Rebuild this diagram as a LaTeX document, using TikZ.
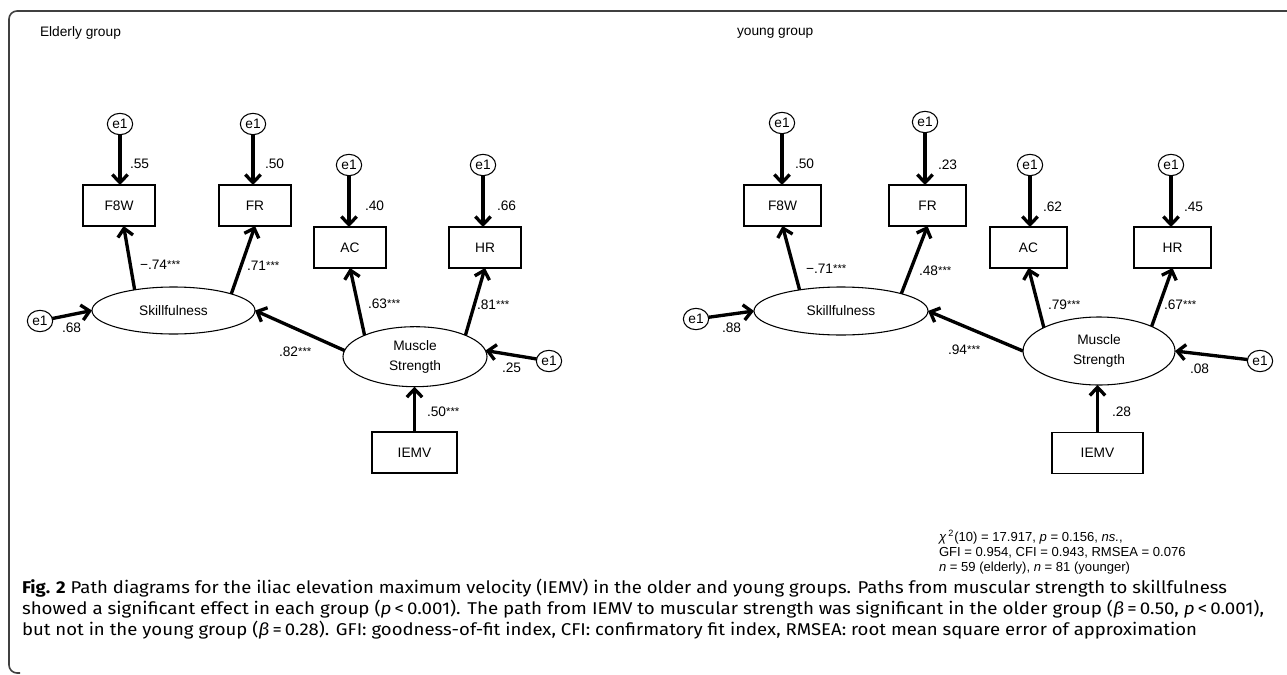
\documentclass[tikz,border=0pt]{standalone}
\usepackage{graphicx}
\usepackage{fontspec}
\setmainfont{Liberation Sans}
\newfontfamily\capfont{Fira Sans}
\usetikzlibrary{arrows.meta,shapes.geometric}
\newcommand{\st}{\raisebox{1.2pt}{\fontsize{8.5pt}{8.5pt}\selectfont ***}}
\newcommand{\capline}[2]{\resizebox{#1}{\height}{#2}}
\begin{document}
\begin{tikzpicture}[x=0.75pt,y=-0.75pt,
  every node/.style={font=\fontsize{10.3pt}{12pt}\selectfont, inner sep=0pt, outer sep=0pt},
  obs/.style={draw, line width=0.8pt, rectangle, minimum height=30.75pt},
  lat/.style={draw, line width=0.8pt, ellipse},
  err/.style={draw, line width=0.8pt, ellipse, minimum width=19pt, minimum height=16pt},
  arr/.style={line width=2.5pt, -{Straight Barb[length=6pt,width=11.5pt]}},
  lbl/.style={anchor=west},
  stat/.style={anchor=west, font=\fontsize{9.8pt}{12pt}\selectfont},
  captext/.style={anchor=west, font=\capfont\fontsize{12.8pt}{14pt}\selectfont},
]
\useasboundingbox (0,0) rectangle (1287,674);
% frame
\draw[line width=1.2pt, black!75, rounded corners=6pt] (20,673) -- (9,673) -- (9,11) -- (1300,11);

% ---------------- Elderly group ----------------
\node[anchor=west] (tL) at (40,33) {Elderly group};
\node[obs, minimum width=54pt] (f8wL) at (119,205.5) {F8W};
\node[obs, minimum width=54pt] (frL) at (255,205.5) {FR};
\node[obs, minimum width=54pt] (acL) at (350,247.5) {AC};
\node[obs, minimum width=54pt] (hrL) at (485,247.5) {HR};
\node[obs, minimum width=63.75pt] (iemvL) at (414.5,452.5) {IEMV};
\node[lat, minimum width=122.25pt, minimum height=35.25pt] (skL) at (173.5,310.5) {Skillfulness};
\node[lat, minimum width=108pt, minimum height=45pt, align=center, font=\fontsize{10.3pt}{15pt}\selectfont] (msL) at (415,356.7) {Muscle\\Strength};
\node[err] (e1aL) at (120,124) {e1};
\node[err] (e1bL) at (253,124) {e1};
\node[err] (e1cL) at (349,165) {e1};
\node[err] (e1dL) at (483,165) {e1};
\node[err] (e1sL) at (40,321) {e1};
\node[err] (e1mL) at (549,361) {e1};

\draw[arr] (e1aL.south) -- (e1aL.south |- f8wL.north);
\draw[arr] (e1bL.south) -- (e1bL.south |- frL.north);
\draw[arr] (e1cL.south) -- (e1cL.south |- acL.north);
\draw[arr] (e1dL.south) -- (e1dL.south |- hrL.north);
\draw[arr] (skL.152) -- ([xshift=3.5pt]f8wL.south);
\draw[arr] (skL.16) -- (frL.south);
\draw[arr] (msL.157) -- (acL.south);
\draw[arr] (msL.23) -- (hrL.south);
\draw[arr] (msL.175) -- (skL.east);
\draw[arr] (e1sL) -- (skL.west);
\draw[arr] (e1mL) -- (msL.5);
\draw[arr] (iemvL.north) -- (iemvL.north |- msL.south);

\node[lbl] (a1) at (130,164) {.55};
\node[lbl] (a2) at (265,164) {.50};
\node[lbl] (a3) at (365,206) {.40};
\node[lbl] (a4) at (497,206) {.66};
\node[lbl] (a5) at (140,265) {−.74\st};
\node[lbl] (a6) at (247,266) {.71\st};
\node[lbl] (a7) at (62,328) {.68};
\node[lbl] (a8) at (368,304) {.63\st};
\node[lbl] (a9) at (477,305) {.81\st};
\node[lbl] (a10) at (279,352) {.82\st};
\node[lbl] (a11) at (502,368) {.25};
\node[lbl] (a12) at (427,412) {.50\st};

% ---------------- young group ----------------
\node[anchor=west] (tR) at (737,33) {young group};
\node[obs, minimum width=57.75pt] (f8wR) at (782.5,205.5) {F8W};
\node[obs, minimum width=57.75pt] (frR) at (927.5,205.5) {FR};
\node[obs, minimum width=57.75pt] (acR) at (1028.5,247.5) {AC};
\node[obs, minimum width=57.75pt] (hrR) at (1172.5,247.5) {HR};
\node[obs, minimum width=68.25pt] (iemvR) at (1097.5,453) {IEMV};
\node[lat, minimum width=130.5pt, minimum height=36pt] (skR) at (841,311) {Skillfulness};
\node[lat, minimum width=114pt, minimum height=51pt, align=center, font=\fontsize{10.3pt}{15pt}\selectfont] (msR) at (1099,351) {Muscle\\Strength};
\node[err] (e1aR) at (782,123) {e1};
\node[err] (e1bR) at (925,122) {e1};
\node[err] (e1cR) at (1030,165) {e1};
\node[err] (e1dR) at (1171,165) {e1};
\node[err] (e1sR) at (696,319) {e1};
\node[err] (e1mR) at (1260,361) {e1};

\draw[arr] (e1aR.south) -- (e1aR.south |- f8wR.north);
\draw[arr] (e1bR.south) -- (e1bR.south |- frR.north);
\draw[arr] (e1cR.south) -- (e1cR.south |- acR.north);
\draw[arr] (e1dR.south) -- (e1dR.south |- hrR.north);
\draw[arr] (skR.153) -- (f8wR.south);
\draw[arr] (skR.16) -- (frR.south);
\draw[arr] (msR.157) -- (acR.south);
\draw[arr] (msR.25) -- (hrR.south);
\draw[arr] (msR.west) -- (skR.east);
\draw[arr] (e1sR) -- (skR.west);
\draw[arr] (e1mR) -- (msR.east);
\draw[arr] (iemvR.north) -- (iemvR.north |- msR.south);

\node[lbl] (b1) at (795,164) {.50};
\node[lbl] (b2) at (938,165) {.23};
\node[lbl] (b3) at (1043,207) {.62};
\node[lbl] (b4) at (1184,207) {.45};
\node[lbl] (b5) at (806,269) {−.71\st};
\node[lbl] (b6) at (919,271) {.48\st};
\node[lbl] (b7) at (722,328) {.88};
\node[lbl] (b8) at (1048,305) {.79\st};
\node[lbl] (b9) at (1164,305) {.67\st};
\node[lbl] (b10) at (948,350) {.94\st};
\node[lbl] (b11) at (1190,369) {.08};
\node[lbl] (b12) at (1112,412) {.28};

% ---------------- fit statistics ----------------
\node[stat] (s1) at (939,537) {\textit{χ}\,\textsuperscript{2}(10) = 17.917, \textit{p} = 0.156, \textit{ns.},};
\node[stat] (s2) at (939,553) {GFI = 0.954, CFI = 0.943, RMSEA = 0.076};
\node[stat] (s3) at (939,568) {\textit{n} = 59 (elderly), \textit{n} = 81 (younger)};

% ---------------- caption ----------------
\node[captext] (c1) at (22,588) {\capline{903.75pt}{\textbf{Fig. 2} Path diagrams for the iliac elevation maximum velocity (IEMV) in the older and young groups. Paths from muscular strength to skillfulness}};
\node[captext] (c2) at (22,609) {\capline{931.5pt}{showed a significant effect in each group (\textit{p}\,<\,0.001). The path from IEMV to muscular strength was significant in the older group (\textit{β}\,=\,0.50, \textit{p}\,<\,0.001),}};
\node[captext] (c3) at (22,630) {\capline{881.25pt}{but not in the young group (\textit{β}\,=\,0.28). GFI: goodness-of-fit index, CFI: confirmatory fit index, RMSEA: root mean square error of approximation}};
\end{tikzpicture}
\end{document}
